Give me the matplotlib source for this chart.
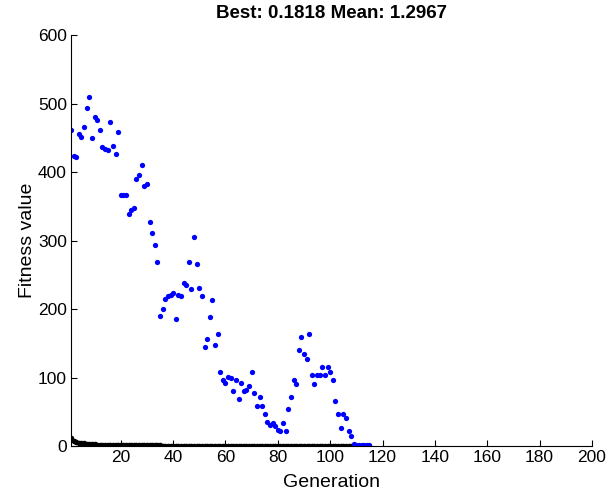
"""
GA fitness plot - best and mean fitness per generation
"""
import numpy as np
import matplotlib
matplotlib.use('Agg')
from matplotlib import pyplot as plt

plt.rcParams['font.family'] = ['Liberation Sans', 'DejaVu Sans']

# mean fitness of each generation
mean_vals = [
    461, 423, 422, 455, 451, 466, 494, 510, 450, 480,
    476, 462, 436, 434, 432, 473, 438, 426, 459, 366,
    366, 366, 338, 345, 348, 390, 395, 410, 380, 382,
    327, 311, 294, 268, 190, 200, 215, 219, 221, 223,
    186, 221, 219, 238, 235, 268, 229, 305, 266, 231,
    219, 145, 156, 189, 213, 147, 163, 108, 96, 92,
    101, 99, 80, 96, 68, 92, 80, 82, 88, 108,
    78, 59, 71, 59, 47, 35, 31, 33, 29, 23,
    22, 34, 22, 54, 71, 96, 91, 140, 159, 134,
    127, 164, 103, 91, 103, 103, 115, 103, 115, 108,
    96, 66, 47, 27, 47, 41, 22, 15, 3.1, 2.2,
    1.8, 1.6, 1.45, 1.35, 1.2967,
]
# best fitness of each generation
best_vals = [
    11.0, 8.0, 6.2, 5.0, 4.3, 3.8, 3.3, 2.9, 2.6, 2.3,
    2.1, 1.9, 1.8, 1.7, 1.6, 1.5, 1.4, 1.35, 1.3, 1.25,
    1.2, 1.15, 1.1, 1.05, 1.0, 0.98, 0.95, 0.92, 0.9, 0.88,
    0.85, 0.82, 0.8, 0.78, 0.76, 0.74, 0.72, 0.7, 0.68, 0.66,
    0.64, 0.62, 0.6, 0.58, 0.56, 0.55, 0.54, 0.52, 0.5, 0.49,
    0.48, 0.46, 0.45, 0.44, 0.43, 0.42, 0.41, 0.4, 0.39, 0.38,
    0.37, 0.36, 0.35, 0.34, 0.33, 0.32, 0.31, 0.3, 0.3, 0.29,
    0.28, 0.28, 0.27, 0.26, 0.26, 0.25, 0.25, 0.24, 0.24, 0.23,
    0.23, 0.22, 0.22, 0.22, 0.21, 0.21, 0.21, 0.2, 0.2, 0.2,
    0.2, 0.19, 0.19, 0.19, 0.19, 0.19, 0.19, 0.19, 0.19, 0.19,
    0.19, 0.19, 0.19, 0.19, 0.19, 0.19, 0.19, 0.19, 0.19, 0.1818,
    0.1818, 0.1818, 0.1818, 0.1818, 0.1818,
]
generations = np.arange(1, len(mean_vals) + 1)

fig = plt.figure(figsize=(6.16, 4.93), dpi=100)
ax = fig.add_axes([0.1153, 0.0953, 0.8457, 0.8337])

ax.plot(generations, best_vals, 'o', color='black', markersize=4,
        markeredgewidth=0)
ax.plot(generations, mean_vals, 'o', color='blue', markersize=3.8,
        markeredgewidth=0)

ax.set_xlim(1, 200)
ax.set_ylim(0, 600)
ax.set_xticks(range(20, 201, 20))
ax.set_yticks(range(0, 601, 100))
ax.tick_params(direction='in', length=4, labelsize=12.5, width=0.8, pad=3)
ax.spines['top'].set_visible(False)
ax.spines['right'].set_visible(False)

ax.set_xlabel('Generation', fontsize=14, labelpad=6)
ax.set_ylabel('Fitness value', fontsize=14, labelpad=1)
ax.set_title('Best: 0.1818 Mean: 1.2967', fontsize=13.5, fontweight='bold', pad=12)

plt.savefig('out.png', dpi=100)
